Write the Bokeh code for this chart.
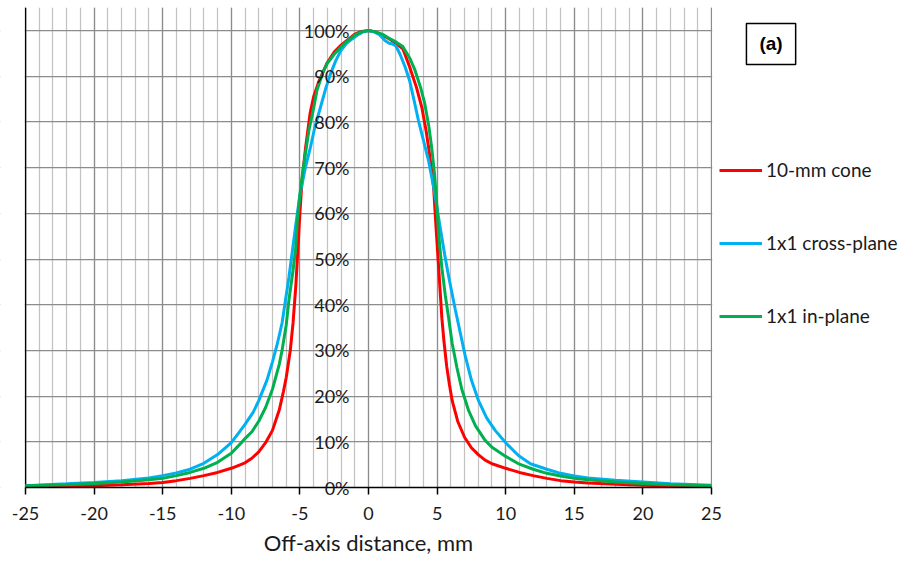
from bokeh.plotting import figure
from bokeh.models import (Range1d, SingleIntervalTicker, PrintfTickFormatter, Label, Span,
                          BoxAnnotation)
from bokeh.embed import file_html
from bokeh.resources import INLINE

# ---- data (off-axis distance in mm, relative dose in %) ----
cone_x = [-25, -22, -20, -18, -16, -15, -14, -13, -12, -11, -10, -9, -8.5, -8, -7.5, -7, -6.5, -6.2, -6,
          -5.7, -5.5, -5.3, -5.15, -5, -4.85, -4.6, -4.25, -4, -3.6, -3, -2.5, -2, -1.5, -1, -0.5, 0,
          0.5, 1, 1.5, 2, 2.5, 3, 3.5, 3.9, 4.2, 4.4, 4.6, 4.75, 4.9, 5.05, 5.2, 5.35, 5.5, 5.7, 5.9,
          6.1, 6.5, 7, 7.5, 8, 8.5, 9, 10, 11, 12, 13, 14, 15, 16, 18, 20, 22, 25]
cone_y = [0.2, 0.3, 0.4, 0.6, 0.9, 1.1, 1.5, 2.0, 2.6, 3.3, 4.2, 5.4, 6.4, 7.8, 9.8, 12.5, 17.0, 21, 24,
          30, 36, 44, 52, 60, 67, 74, 82, 85.5, 89, 93, 95.3, 96.8, 98, 99.2, 99.8, 100,
          99.7, 99.0, 98.2, 97.2, 96, 92, 87.5, 83, 78, 74, 69.5, 65.5, 58, 51, 44, 37, 32, 26.5, 22.5,
          19, 14.5, 11, 8.7, 7.2, 6.0, 5.2, 4.2, 3.3, 2.6, 2.0, 1.5, 1.2, 1.0, 0.7, 0.5, 0.35, 0.2]

cross_x = [-25, -22, -20, -18, -16, -15, -14, -13, -12, -11, -10, -9.5, -9, -8.4, -8, -7.4, -7, -6.65,
           -6.3, -6.05, -5.8, -5.56, -5.3, -5, -4.6, -4.23, -3.9, -3.5, -3.1, -2.77, -2.4, -2.04, -1.6,
           -1.3, -0.8, -0.4, 0, 0.4, 0.8, 1.2, 1.5, 1.7, 2, 2.3, 2.67, 3, 3.3, 3.64, 4, 4.37, 4.7, 4.98,
           5.3, 5.59, 5.9, 6.32, 6.7, 7.05, 7.5, 8.02, 8.6, 9.23, 10, 10.93, 11.8, 13, 14, 15, 16, 18,
           20, 22, 25]
cross_y = [0.4, 0.8, 1.1, 1.5, 2.1, 2.6, 3.2, 4.0, 5.3, 7.2, 9.8, 11.8, 13.8, 16.5, 19, 23.5, 27.5, 31.4,
           36, 41, 46, 51.5, 57.5, 64, 70, 74.5, 79, 83.2, 87.5, 90.5, 93.3, 95.5, 97.2,
           97.9, 99, 99.7, 100, 99.7, 99.1, 97.8, 97.2, 97.1, 96.6, 94.8, 92, 89, 85, 80.3, 76, 71.6, 66.5, 61.5,
           55.5, 50.3, 45.3, 39, 33.7, 28.8, 23.5, 19, 15.3, 12.5, 9.8, 7.0, 5.2, 4.0, 3.1, 2.5, 2.1, 1.6,
           1.2, 0.8, 0.5]

in_x = [-25, -22, -20, -18, -16, -15, -14, -13, -12, -11, -10, -9.33, -9, -8.5, -8, -7.5, -7, -6.5, -6.3,
        -6, -5.8, -5.5, -5.3, -5.2, -5, -4.8, -4.35, -4, -3.75, -3.3, -3, -2.5, -2, -1.5, -1, -0.5, 0,
        0.5, 1, 1.5, 2, 2.5, 3, 3.4, 3.8, 4.1, 4.4, 4.6, 4.8, 4.93, 5.1, 5.25, 5.35, 5.6, 5.83, 6.1,
        6.44, 6.8, 7.3, 7.8, 8.5, 9, 10, 11, 12, 13, 14, 15, 16, 18, 20, 22, 25]
in_y = [0.4, 0.6, 0.9, 1.2, 1.7, 2.0, 2.6, 3.3, 4.2, 5.5, 7.5, 9.6, 10.7, 12.2, 14.5, 17.5, 21.5, 27, 30,
        35.5, 41, 47.5, 52.5, 58, 64, 69, 78, 83, 87, 91, 92.8, 94.8, 96.4, 97.8, 99, 99.7, 100,
        99.7, 99.2, 98.3, 97.5, 96.5, 94, 91.2, 87.5, 84, 79, 74.5, 69, 64, 56, 51, 48, 42, 37.3, 31.5,
        26.3, 21.5, 16.8, 13.5, 10.3, 8.8, 6.8, 5.1, 4.0, 3.1, 2.5, 2.0, 1.7, 1.2, 0.9, 0.6, 0.4]

series_names = ["10-mm cone", "1x1 cross-plane", "1x1 in-plane"]
series_colors = ["#FF0000", "#00B0F0", "#00B050"]

FONT = "Lato"
TXT = "#1a1a1a"
W, H = 914, 562
TOP = 7                      # plot area starts 7px below the top
PX_X0, PX_X1 = 25.0, 711.0   # screen x of -25 mm and +25 mm
PX_Y0, PX_Y100 = 487.0, 30.0  # screen y of 0 % and 100 %
sx = (PX_X1 - PX_X0) / 50.0
sy = (PX_Y0 - PX_Y100) / 100.0
x_start = -25 - PX_X0 / sx
x_end = 25 + (W - PX_X1) / sx
y_start = -(H - PX_Y0) / sy
y_end = 100 + (PX_Y100 - TOP) / sy

p = figure(width=W, height=H, output_backend="svg", toolbar_location=None,
           x_range=Range1d(x_start, x_end), y_range=Range1d(y_start, y_end),
           min_border_left=0, min_border_right=0, min_border_top=TOP, min_border_bottom=0)
p.outline_line_color = None
p.background_fill_color = "white"
p.border_fill_color = "white"

# x axis (crosses at 0 %)
p.xaxis.fixed_location = 0
p.xaxis.bounds = (-25, 25)
p.xaxis.ticker = SingleIntervalTicker(interval=5, num_minor_ticks=5)
p.xaxis.formatter = PrintfTickFormatter(format="%d")
p.xaxis.axis_line_color = "black"
p.xaxis.axis_line_width = 1.5
p.xaxis.major_tick_line_color = "black"
p.xaxis.major_tick_line_width = 1.5
p.xaxis.major_tick_out = 7
p.xaxis.major_tick_in = 0
p.xaxis.minor_tick_line_color = None
p.xaxis.major_label_text_font = FONT
p.xaxis.major_label_text_font_size = "18px"
p.xaxis.major_label_text_color = TXT
p.xaxis.major_label_standoff = 12
p.xaxis.axis_label = "Off-axis distance, mm"
p.xaxis.axis_label_text_font = FONT
p.xaxis.axis_label_text_font_size = "22px"
p.xaxis.axis_label_text_font_style = "normal"
p.xaxis.axis_label_text_color = TXT
p.xaxis.axis_label_standoff = 6

# y axis (crosses at 0 mm)
p.yaxis.fixed_location = 0
p.yaxis.bounds = (0, 100)
p.yaxis.ticker = SingleIntervalTicker(interval=10, num_minor_ticks=0)
p.yaxis.formatter = PrintfTickFormatter(format="%d%%")
p.yaxis.axis_line_color = None
p.yaxis.major_tick_line_color = None
p.yaxis.minor_tick_line_color = None
p.yaxis.major_tick_out = 0
p.yaxis.major_tick_in = 0
p.yaxis.major_label_standoff = 19
p.yaxis.major_label_text_font = FONT
p.yaxis.major_label_text_font_size = "18px"
p.yaxis.major_label_text_color = TXT

# grids
p.xgrid.grid_line_color = "#8c8c8c"
p.xgrid.grid_line_width = 1.25
p.xgrid.minor_grid_line_color = "#c2c2c2"
p.xgrid.minor_grid_line_width = 1.25
p.ygrid.grid_line_color = "#8c8c8c"
p.ygrid.grid_line_width = 1.25

# left edge line of the plot area
p.add_layout(Span(location=-25, dimension="height", line_color="black", line_width=1.5, level="underlay"))

# white masks outside the plot area (keep grid lines inside it)
masks = [dict(left=25 + 0.7 / sx, right=x_end, bottom=y_start, top=y_end),
         dict(left=x_start, right=-25 - 0.8 / sx, bottom=y_start, top=y_end),
         dict(left=x_start, right=x_end, bottom=y_start, top=0)]
for kw in masks:
    p.add_layout(BoxAnnotation(fill_color="white", fill_alpha=1, line_color=None, level="glyph", **kw))

for xs, ys, name, col in zip([cone_x, cross_x, in_x], [cone_y, cross_y, in_y], series_names, series_colors):
    p.line(xs, ys, line_color=col, line_width=3, legend_label=name)

lg = p.legend[0]
lg.location = (719, 235)
lg.orientation = "vertical"
lg.border_line_color = None
lg.background_fill_alpha = 0
lg.padding = 0
lg.margin = 0
lg.spacing = 50
lg.glyph_width = 43
lg.glyph_height = 20
lg.label_height = 20
lg.label_standoff = 4
lg.label_text_font = FONT
lg.label_text_font_size = "19px"
lg.label_text_color = TXT

tag = Label(x=29.34, y=97.05, text="(a)", text_align="center", text_baseline="middle",
            text_font="Liberation Sans", text_font_style="bold", text_font_size="19px",
            text_color="black", border_line_color="black", border_line_width=1.5,
            background_fill_color="white", padding=dict(left=13, right=13, top=10, bottom=10))
p.add_layout(tag)

open("out.html", "w").write(file_html(p, INLINE))
